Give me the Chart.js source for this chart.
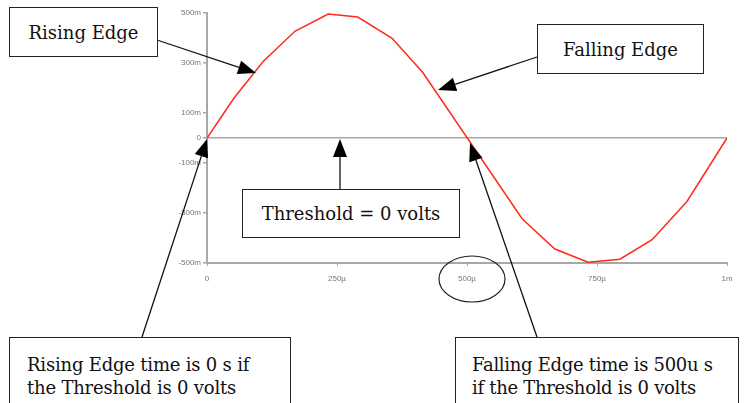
<!DOCTYPE html>
<html>
<head>
<meta charset="utf-8">
<script src="https://cdn.jsdelivr.net/npm/chart.js@4"></script>
<style>
  html, body { margin: 0; padding: 0; background: #fff; }
  #wrap { position: relative; width: 752px; height: 403px; overflow: hidden; }
  #c { position: absolute; left: 0; top: 0; }
  svg { position: absolute; left: 0; top: 0; }
  .box {
    position: absolute; box-sizing: border-box; border: 1px solid #222; background: #fff;
    font-family: "DejaVu Serif", serif; font-size: 18px; color: #111; line-height: 23px;
  }
  .center { display: flex; align-items: center; justify-content: center; }
</style>
</head>
<body>
<div id="wrap">
  <canvas id="c" width="752" height="403"></canvas>
  <svg id="ann" width="752" height="403"></svg>
  <div class="box center" style="left:9px;top:7px;width:149px;height:50px;">Rising Edge</div>
  <div class="box center" style="left:537px;top:24px;width:167px;height:50px;">Falling Edge</div>
  <div class="box center" style="left:242px;top:189px;width:218px;height:49px;">Threshold = 0 volts</div>
  <div class="box" style="left:9px;top:337px;width:282px;height:80px;padding:15px 0 0 17px;letter-spacing:-0.2px;">Rising Edge time is 0 s if<br>the Threshold is 0 volts</div>
  <div class="box" style="left:455px;top:337px;width:284px;height:80px;padding:15px 0 0 16px;letter-spacing:-0.3px;">Falling Edge time is 500u s<br>if the Threshold is 0 volts</div>
</div>
<script>
// time in microseconds, voltage in millivolts
const times = [0, 52, 108, 169, 233, 290, 356, 415, 606, 669, 733, 794, 856, 923, 1000];
const volts = [0, 160, 306, 427, 496, 484, 399, 262, -323, -444, -497, -485, -407, -254, 0];
const yTicks = [-500, -300, -100, 0, 100, 300, 500];
const xTicks = [0, 250, 500, 750, 1000];

const pts = times.map((t, i) => ({x: t, y: volts[i]}));
const axisGray = '#a8a8a8';
const labelFont = {family: 'Liberation Sans', size: 8};

new Chart(document.getElementById('c'), {
  type: 'line',
  data: {
    datasets: [{
      data: pts,
      borderColor: '#ff2a1a',
      borderWidth: 1.5,
      pointRadius: 0,
      tension: 0
    }]
  },
  options: {
    responsive: false,
    animation: false,
    events: [],
    layout: { padding: {left: 0, top: 13, right: 25, bottom: 120} },
    plugins: { legend: {display: false}, tooltip: {enabled: false} },
    scales: {
      x: {
        type: 'linear', min: 0, max: 1000,
        afterBuildTicks: s => { s.ticks = xTicks.map(v => ({value: v})); },
        afterFit: s => { s.height = 20; },
        border: {color: axisGray, width: 2},
        grid: {drawOnChartArea: false, tickLength: 3, tickColor: axisGray},
        ticks: {
          color: '#777', font: labelFont, padding: 8, maxRotation: 0,
          callback: v => v === 0 ? '0' : (v === 1000 ? '1m' : v + 'µ')
        }
      },
      y: {
        min: -500, max: 500,
        afterBuildTicks: s => { s.ticks = yTicks.map(v => ({value: v})); },
        afterFit: s => { s.width = 207; },
        border: {color: axisGray, width: 2},
        grid: {
          tickLength: 4,
          tickColor: axisGray,
          lineWidth: 1.5,
          color: c => c.tick && c.tick.value === 0 ? axisGray : 'rgba(0,0,0,0)'
        },
        ticks: {
          color: '#777', font: labelFont, padding: 2,
          callback: v => v === 0 ? '0' : v + 'm'
        }
      }
    }
  }
});

// annotation arrows and the ellipse around 500µ
const svg = document.getElementById('ann');
const NS = 'http://www.w3.org/2000/svg';
function add(tag, attrs) {
  const el = document.createElementNS(NS, tag);
  for (const k in attrs) el.setAttribute(k, attrs[k]);
  svg.appendChild(el);
}
function arrow(x1, y1, x2, y2) {
  const dx = x2 - x1, dy = y2 - y1, len = Math.hypot(dx, dy);
  const ux = dx / len, uy = dy / len;
  const hl = 18, hw = 7;
  const bx = x2 - ux * hl, by = y2 - uy * hl;
  add('line', {x1: x1, y1: y1, x2: bx, y2: by, stroke: '#111', 'stroke-width': 1.3});
  add('polygon', {
    points: x2 + ',' + y2 + ' ' + (bx - uy * hw) + ',' + (by + ux * hw) + ' ' + (bx + uy * hw) + ',' + (by - ux * hw),
    fill: '#000'
  });
}
arrow(157, 40, 256, 73);
arrow(537, 57, 438, 90);
arrow(340, 189, 340, 139);
arrow(142, 337, 207, 139);
arrow(537, 337, 470, 143);
add('ellipse', {cx: 472, cy: 279, rx: 33, ry: 23, fill: 'none', stroke: '#222', 'stroke-width': 1.2});
</script>
</body>
</html>
